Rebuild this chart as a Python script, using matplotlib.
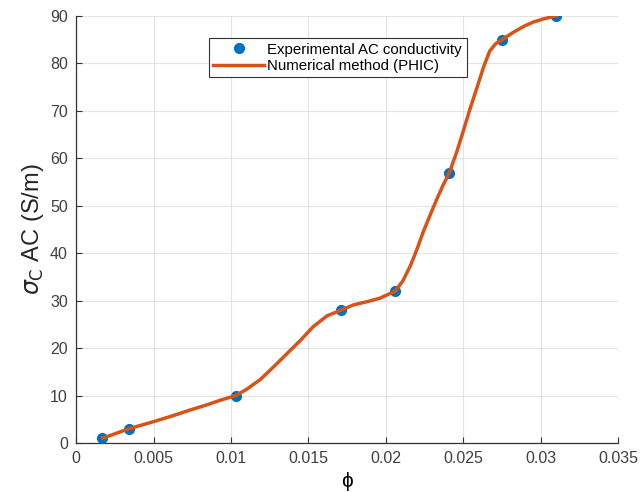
import matplotlib
matplotlib.use("Agg")
import matplotlib.pyplot as plt

plt.rcParams['font.family'] = ['Liberation Sans', 'DejaVu Sans']

# measured points
phi = [0.0017, 0.0034, 0.0103, 0.0171, 0.0206, 0.0241, 0.0275, 0.0310]
sigma = [1, 3, 10, 28, 32, 57, 85, 90]

# numerical curve
curve_phi = [0.0017, 0.0034, 0.0050, 0.0062, 0.0074, 0.0084, 0.0093, 0.0103,
             0.0110, 0.0119, 0.0127, 0.0136, 0.0145, 0.0153, 0.0162, 0.0171,
             0.0179, 0.0188, 0.0196, 0.0206, 0.0211, 0.0216, 0.0220, 0.0224,
             0.0229, 0.0233, 0.0237, 0.0241, 0.0246, 0.0250, 0.0254, 0.0259,
             0.0263, 0.0267, 0.0271, 0.0275, 0.0282, 0.0289, 0.0295, 0.0302,
             0.0310]
curve_sigma = [1, 3, 4.5, 5.7, 7.0, 8.0, 9.0, 10,
               11.3, 13.4, 15.9, 18.8, 21.7, 24.5, 26.8, 28,
               29.1, 29.8, 30.5, 32, 34.2, 37.5, 40.8, 44.4,
               48.4, 51.5, 54.4, 57, 61.6, 65.8, 70.1, 75.1,
               79.2, 82.6, 84.2, 85, 86.5, 87.8, 88.7, 89.4,
               90]

fig = plt.figure(figsize=(6.4, 4.92), dpi=100)
ax = fig.add_axes([0.119, 0.0996, 0.847, 0.868])

ax.plot(phi, sigma, 'o', color='#0072BD', markersize=7,
        label='Experimental AC conductivity', zorder=3)
ax.plot(curve_phi, curve_sigma, '-', color='#D95319', linewidth=2.5,
        solid_joinstyle='round', label='Numerical method (PHIC)', zorder=4)

ax.set_xlim(0, 0.035)
ax.set_ylim(0, 90)
ax.set_xticks([0, 0.005, 0.01, 0.015, 0.02, 0.025, 0.03, 0.035])
ax.set_xticklabels(['0', '0.005', '0.01', '0.015', '0.02', '0.025', '0.03', '0.035'])
ax.set_yticks(range(0, 91, 10))

ax.grid(True, color='#e3e3e3', linewidth=0.8)
ax.set_axisbelow(True)

for side in ['top', 'right']:
    ax.spines[side].set_visible(False)
for side in ['left', 'bottom']:
    ax.spines[side].set_color('#333333')
    ax.spines[side].set_linewidth(0.9)

ax.tick_params(direction='in', length=4, colors='#333333', labelsize=11.5,
               labelcolor='#404040', pad=6)

ax.set_xlabel('ϕ', fontsize=15, color='black', labelpad=4)
ax.set_ylabel(r'$\sigma_{\mathrm{C}}$ AC (S/m)', fontsize=17, color='#262626',
              labelpad=3)

leg = ax.legend(loc='upper left', bbox_to_anchor=(0.245, 0.948), fontsize=10.8,
                handlelength=3.4, fancybox=False, framealpha=1,
                edgecolor='#333333', borderpad=0.3, labelspacing=0.15,
                handletextpad=0.2, borderaxespad=0)
leg.get_frame().set_linewidth(0.8)

fig.savefig('out.png', dpi=100)
